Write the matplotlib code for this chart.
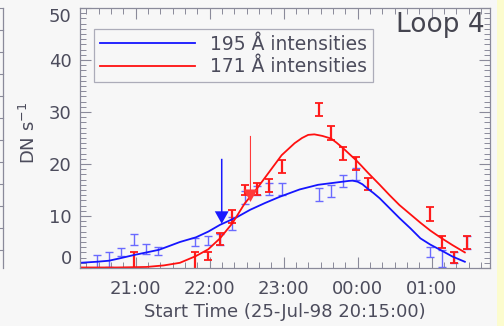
import matplotlib
matplotlib.use('Agg')
import matplotlib.pyplot as plt
from matplotlib.ticker import MultipleLocator, FixedLocator
from matplotlib.lines import Line2D
from matplotlib.patches import Rectangle

# times are minutes after 20:15:00
t_195 = [13.5, 23.5, 33.5, 43.5, 53.5, 63.5, 93.5, 103.5, 113.5, 123.5, 133.5,
         143.5, 153.5, 163.5, 193.5, 203.5, 213.5, 223.5, 283.5, 293.5, 303.5, 313.5]
v_195 = [1.2, 1.6, 3.1, 5.5, 3.6, 3.3, 5.0, 5.3, 5.5, 8.6, 13.6,
         14.9, 15.2, 15.2, 14.1, 14.8, 16.7, 18.1, 3.1, 1.8, 2.0, 4.9]
e_195 = [1.35, 1.45, 0.8, 1.05, 1.0, 0.8, 0.8, 0.9, 1.05, 1.3, 1.3,
         0.9, 1.1, 1.2, 1.2, 1.2, 1.2, 1.1, 1.0, 1.7, 1.1, 1.3]

t_171 = [43.5, 93.5, 103.5, 113.5, 123.5, 133.5, 143.5, 153.5, 163.5, 193.5,
         203.5, 213.5, 223.5, 233.5, 283.5, 293.5, 303.5, 313.5]
v_171 = [1.1, 1.2, 2.3, 5.6, 9.9, 15.0, 15.2, 15.9, 19.5, 30.5,
         26.0, 22.0, 20.1, 16.2, 10.4, 5.0, 2.0, 4.9]
e_171 = [1.9, 1.9, 0.8, 1.1, 1.3, 1.0, 1.1, 1.2, 1.3, 1.3,
         1.3, 1.2, 1.2, 1.2, 1.3, 1.2, 1.1, 1.3]

# fitted light curves
fit_t_195 = [0, 13.5, 23.5, 33, 43.8, 54, 64, 72, 81, 94, 104, 113.5, 127, 138, 150,
             162, 178, 193, 203, 213, 218, 221, 225, 229, 233, 238, 243, 251, 259,
             268, 276, 284, 292, 302, 312]
fit_v_195 = [1.0, 1.2, 1.4, 1.9, 2.5, 3.0, 3.5, 4.2, 5.0, 5.9, 7.0, 8.3, 9.75, 11.2, 12.5,
             13.7, 15.1, 16.0, 16.3, 16.6, 16.75, 16.8, 16.6, 16.1, 15.3, 14.4, 13.4, 11.5, 9.6,
             7.6, 5.7, 4.5, 3.5, 2.2, 1.2]
fit_t_171 = [0, 30, 54, 68, 81, 94, 104, 113.5, 123.5, 133.5, 143.5, 153.5, 163.5,
             174, 180, 185, 190, 196.5, 203.5, 208, 213.5, 218, 223.5, 228, 233.5, 243,
             251, 259, 268, 276, 284, 292, 302, 312]
fit_v_171 = [0.1, 0.1, 0.2, 0.5, 1.0, 2.3, 3.6, 5.7, 8.6, 12.4, 15.3, 18.5, 21.7,
             24.0, 25.0, 25.6, 25.7, 25.4, 24.9, 24.1, 23.0, 22.0, 20.8, 19.7, 18.3, 16.0,
             14.0, 12.1, 10.3, 8.7, 7.2, 5.9, 4.4, 3.0]

# arrows: (time, tail value, tip value)
arrow_195 = (114.9, 21.0, 8.5)
arrow_171 = (138.2, 25.4, 12.7)

hour_ticks = [45, 105, 165, 225, 285]
hour_labels = ['21:00', '22:00', '23:00', '00:00', '01:00']
y_ticks = [0, 10, 20, 30, 40, 50]

bg = '#f7f7f7'
txt = '#4c4c5c'
axc = '#8a8a9a'

fig = plt.figure(figsize=(5.04, 3.26), dpi=100, facecolor=bg)
ax = fig.add_axes([80/504, 58/326, 410/504, 260/326], facecolor=bg)

ax.errorbar(t_195, v_195, yerr=e_195, fmt='none', ecolor='#6a6aff', elinewidth=1.0,
            capsize=2.6, capthick=1.0)
ax.errorbar(t_171, v_171, yerr=e_171, fmt='none', ecolor='#ff1a1a', elinewidth=1.6,
            capsize=3.0, capthick=1.3)
ax.plot(fit_t_195, fit_v_195, color='#1515ff', lw=1.3, label='195 Å intensities')
ax.plot(fit_t_171, fit_v_171, color='#ff1010', lw=1.3, label='171 Å intensities')

for (x, y0, y1), c, w in [(arrow_195, '#1a1aff', 1.1), (arrow_171, '#ff3a3a', 0.8)]:
    ax.annotate('', xy=(x, y1), xytext=(x, y0),
                arrowprops=dict(color=c, width=w, headwidth=10, headlength=9, lw=0))

ax.xaxis.set_major_locator(FixedLocator(hour_ticks))
ax.set_xticklabels(hour_labels)
ax.xaxis.set_minor_locator(FixedLocator(list(range(5, 333, 10))))
ax.set_yticks(y_ticks)
ax.yaxis.set_minor_locator(MultipleLocator(1))
ax.set_xlim(0, 332.4)
ax.set_ylim(0, 50)
ax.tick_params(which='both', direction='in', top=True, right=True, colors=axc,
               labelcolor=txt, labelsize=13)
ax.tick_params(which='major', length=8, width=0.8)
ax.tick_params(which='minor', length=4, width=0.7)
ax.tick_params(axis='x', pad=9)
ax.tick_params(axis='y', pad=6)
for s in ax.spines.values():
    s.set_color(axc)
    s.set_linewidth(0.9)

# keep the end labels of the y axis inside the frame
yt = ax.yaxis.get_major_ticks()
yt[0].label1.set_va('bottom')
yt[-1].label1.set_va('top')

ax.set_xlabel('Start Time (25-Jul-98 20:15:00)', fontsize=13, color=txt, labelpad=3)
ax.set_ylabel('DN s$^{-1}$', fontsize=13, color=txt)
ax.yaxis.set_label_coords(-0.10, 0.52)

ax.text(0.988, 0.985, 'Loop 4', transform=ax.transAxes, ha='right', va='top',
        fontsize=19, color='#454550')

leg = ax.legend(loc='upper left', bbox_to_anchor=(0.034, 0.919), borderaxespad=0,
                fontsize=13.5, handlelength=5.1, handletextpad=0.8, borderpad=0.3,
                labelspacing=0.2, fancybox=False, frameon=True)
leg.get_frame().set_edgecolor('#9a9aaa')
leg.get_frame().set_facecolor(bg)
leg.get_frame().set_linewidth(0.9)
for t in leg.get_texts():
    t.set_color(txt)

# pale yellow strip on the right and the edge of the neighbouring panel on the left
fig.add_artist(Rectangle((497/504, 0), 7/504, 1, transform=fig.transFigure,
                         color='#fcfcce', lw=0))
fig.add_artist(Line2D([3/504, 3/504], [58/326, 318/326], transform=fig.transFigure,
                      color=axc, lw=0.9))
for k in range(12):
    yy = (318 - 22 * k) / 326
    fig.add_artist(Line2D([0, 3/504], [yy, yy], transform=fig.transFigure,
                          color=axc, lw=0.8))

fig.savefig('out.png', dpi=100, facecolor=bg)
